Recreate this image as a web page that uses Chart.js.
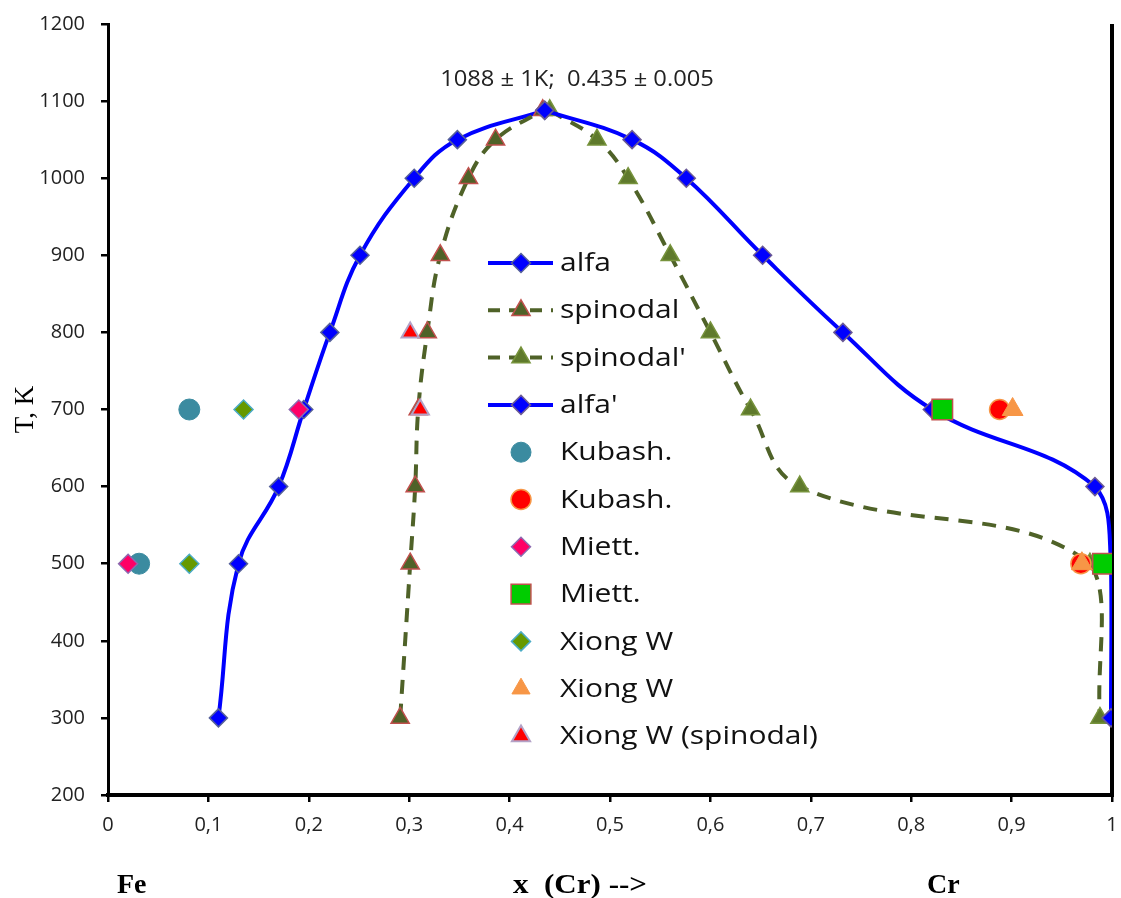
<!DOCTYPE html>
<html><head><meta charset="utf-8">
<script src="https://cdn.jsdelivr.net/npm/chart.js@4.4.1/dist/chart.umd.min.js"></script>
<style>html,body{margin:0;padding:0;background:#fff;}#wrap{width:1121px;height:898px;}</style>
</head><body><div id="wrap"><canvas id="c" width="1121" height="898"></canvas></div>
<script>
// ---- data ----
const xTickValues = [0,0.1,0.2,0.3,0.4,0.5,0.6,0.7,0.8,0.9,1];
const xTickLabels = ['0','0,1','0,2','0,3','0,4','0,5','0,6','0,7','0,8','0,9','1'];
const yTickValues = [200,300,400,500,600,700,800,900,1000,1100,1200];

const alfaX  = [0.110, 0.130, 0.170, 0.195, 0.221, 0.251, 0.305, 0.348, 0.435];
const alfaT  = [300, 500, 600, 700, 800, 900, 1000, 1050, 1088];
const spinX  = [0.291, 0.301, 0.306, 0.309, 0.318, 0.331, 0.359, 0.386, 0.433];
const spinT  = [300, 500, 600, 700, 800, 900, 1000, 1050, 1088];
const spinPX = [0.440, 0.487, 0.518, 0.560, 0.600, 0.640, 0.689, 0.978, 0.988];
const spinPT = [1088, 1050, 1000, 900, 800, 700, 600, 500, 300];
const alfaPX = [0.435, 0.522, 0.576, 0.652, 0.732, 0.821, 0.983, 0.999, 0.999];
const alfaPT = [1088, 1050, 1000, 900, 800, 700, 600, 500, 300];

const kubash1X = [0.081, 0.031];  const kubash1T = [700, 500];
const kubash2X = [0.888, 0.969];  const kubash2T = [700, 500];
const miett1X  = [0.020, 0.190];  const miett1T  = [500, 700];
const miett2X  = [0.831, 0.991];  const miett2T  = [700, 500];
const xiong1X  = [0.135, 0.081];  const xiong1T  = [700, 500];
const xiong2X  = [0.901, 0.970];  const xiong2T  = [700, 500];
const xiongSX  = [0.301, 0.311];  const xiongST  = [800, 700];

const seriesNames = ['alfa','spinodal',"spinodal'","alfa'",'Kubash.','Kubash.','Miett.','Miett.','Xiong W','Xiong W','Xiong W (spinodal)'];
const peakNote = '1088 \u00b1 1K;  0.435 \u00b1 0.005';
const bottomNotes = ['Fe', 'x  (Cr) -->', 'Cr'];
const yTitle = 'T, K';

function pts(xs, ts){ return xs.map((x,i)=>({x:x, y:ts[i]})); }
function lineSet(name, xs, ts, o){
  return Object.assign({label:name, data:pts(xs,ts), showLine:true, tension:0.4, fill:false}, o);
}
function dotSet(name, xs, ts, o){
  return Object.assign({label:name, data:pts(xs,ts), showLine:false}, o);
}

const datasets = [
  lineSet(seriesNames[0], alfaX, alfaT, {borderColor:'#0000FF', borderWidth:4, pointStyle:'rectRot', pointRadius:9, pointBackgroundColor:'#0000FF', pointBorderColor:'#55609A', pointBorderWidth:1.5}),
  lineSet(seriesNames[1], spinX, spinT, {borderColor:'#4F6228', borderWidth:4, borderDash:[14,10], pointStyle:'triangle', pointRadius:10.5, pointBackgroundColor:'#4F6228', pointBorderColor:'#C0504D', pointBorderWidth:1.5}),
  lineSet(seriesNames[2], spinPX, spinPT, {borderColor:'#4F6228', borderWidth:4, borderDash:[14,10], pointStyle:'triangle', pointRadius:10.5, pointBackgroundColor:'#5F7A2C', pointBorderColor:'#77933C', pointBorderWidth:1.5}),
  lineSet(seriesNames[3], alfaPX, alfaPT, {borderColor:'#0000FF', borderWidth:4, pointStyle:'rectRot', pointRadius:9, pointBackgroundColor:'#0000FF', pointBorderColor:'#6B5A95', pointBorderWidth:1.5}),
  dotSet(seriesNames[4], kubash1X, kubash1T, {pointStyle:'circle', pointRadius:10.5, pointBackgroundColor:'#3B8BA0', pointBorderColor:'#3B8BA0', pointBorderWidth:1}),
  dotSet(seriesNames[5], kubash2X, kubash2T, {pointStyle:'circle', pointRadius:10, pointBackgroundColor:'#FF0000', pointBorderColor:'#F79646', pointBorderWidth:1.5}),
  dotSet(seriesNames[6], miett1X, miett1T, {pointStyle:'rectRot', pointRadius:9.5, pointBackgroundColor:'#FF0066', pointBorderColor:'#8C6BB1', pointBorderWidth:1.5}),
  dotSet(seriesNames[7], miett2X, miett2T, {pointStyle:'rect', pointRadius:14.5, pointBackgroundColor:'#00CC00', pointBorderColor:'#C0504D', pointBorderWidth:1.5}),
  dotSet(seriesNames[8], xiong1X, xiong1T, {pointStyle:'rectRot', pointRadius:9.5, pointBackgroundColor:'#669900', pointBorderColor:'#4BACC6', pointBorderWidth:1.5}),
  dotSet(seriesNames[9], xiong2X, xiong2T, {pointStyle:'triangle', pointRadius:12, pointBackgroundColor:'#F79646', pointBorderColor:'#F79646', pointBorderWidth:1}),
  dotSet(seriesNames[10], xiongSX, xiongST, {pointStyle:'triangle', pointRadius:10, pointBackgroundColor:'#FF0000', pointBorderColor:'#B3A2C7', pointBorderWidth:2})
];
datasets.forEach((d,i)=>{ d.order = datasets.length - i; });

function stretchedText(ctx, text, x, y, sx){
  ctx.save(); ctx.translate(x, y); ctx.scale(sx, 1); ctx.fillText(text, 0, 0); ctx.restore();
}

const customPlugin = {
  id:'customLegend',
  beforeDatasetsDraw(chart){
    const ctx = chart.ctx, xs = chart.scales.x, a = chart.chartArea;
    const px = xs.getPixelForValue(1);
    ctx.save(); ctx.strokeStyle = '#000'; ctx.lineWidth = 4;
    ctx.beginPath(); ctx.moveTo(px, a.top); ctx.lineTo(px, a.bottom + 2); ctx.stroke();
    ctx.restore();
  },
  afterDatasetsDraw(chart){
    const ctx = chart.ctx;
    const x0 = 488, x1 = 553, mx = 521, tx = 560, y0 = 263, dy = 47.3;
    ctx.save();
    chart.data.datasets.forEach((d,i)=>{
      const y = y0 + i*dy;
      if (d.showLine){
        ctx.save();
        ctx.strokeStyle = d.borderColor; ctx.lineWidth = d.borderWidth;
        ctx.setLineDash(d.borderDash ? [12,9] : []);
        ctx.beginPath(); ctx.moveTo(x0,y); ctx.lineTo(x1,y); ctx.stroke();
        ctx.restore();
      }
      ctx.save();
      ctx.fillStyle = d.pointBackgroundColor; ctx.strokeStyle = d.pointBorderColor;
      ctx.lineWidth = d.pointBorderWidth; ctx.setLineDash([]);
      const r = d.pointStyle==='rect' ? 14 : (d.pointStyle==='triangle' ? 10.5 : (d.pointStyle==='circle'?10:9.5));
      Chart.helpers.drawPoint(ctx, {pointStyle:d.pointStyle, radius:r, rotation:0, borderWidth:d.pointBorderWidth}, mx, y);
      ctx.restore();
      ctx.fillStyle = '#111';
      ctx.font = '25px "Open Sans", "DejaVu Sans", sans-serif';
      ctx.textBaseline = 'middle'; ctx.textAlign = 'left';
      stretchedText(ctx, d.label, tx, y+1, 1.2);
    });
    ctx.restore();
  },
  afterDraw(chart){
    const ctx = chart.ctx;
    ctx.save();
    ctx.fillStyle = '#222';
    ctx.font = '21px "Open Sans", "DejaVu Sans", sans-serif';
    ctx.textAlign = 'center'; ctx.textBaseline = 'middle';
    stretchedText(ctx, peakNote, 577, 80, 1.13);
    ctx.fillStyle = '#000';
    ctx.font = 'bold 28px "Liberation Serif", "DejaVu Serif", serif';
    ctx.textAlign = 'left'; ctx.textBaseline = 'alphabetic';
    ctx.fillText(bottomNotes[0], 117, 893);
    const w = ctx.measureText(bottomNotes[1]).width;
    stretchedText(ctx, bottomNotes[1], 513, 893, 134 / w);
    ctx.fillText(bottomNotes[2], 927, 893);
    ctx.restore();
  }
};

new Chart(document.getElementById('c'), {
  type:'scatter',
  data:{datasets:datasets},
  options:{
    responsive:false, animation:false, devicePixelRatio:1,
    layout:{autoPadding:false, padding:0},
    plugins:{legend:{display:false}, tooltip:{enabled:false}},
    scales:{
      x:{type:'linear', min:0, max:1,
        afterBuildTicks(s){ s.ticks = xTickValues.map(v=>({value:v})); },
        afterFit(s){ s.height = 103; s.paddingLeft = 0; s.paddingRight = 9; },
        ticks:{autoSkip:false, maxRotation:0, padding:11, color:'#222',
          font:{family:'"Open Sans", "DejaVu Sans", sans-serif', size:20},
          callback(v){ const i = xTickValues.findIndex(t=>Math.abs(t-v)<1e-9); return i>=0 ? xTickLabels[i] : ''; }},
        grid:{drawOnChartArea:false, drawTicks:true, tickLength:7, color:'#000', lineWidth:2.5},
        border:{color:'#000', width:4}
      },
      y:{type:'linear', min:200, max:1200,
        afterBuildTicks(s){ s.ticks = yTickValues.map(v=>({value:v})); },
        afterFit(s){ s.width = 108; s.paddingTop = 24; s.paddingBottom = 0; },
        ticks:{padding:16, color:'#222', font:{family:'"Open Sans", "DejaVu Sans", sans-serif', size:20},
          callback(v){ return String(v); }},
        grid:{drawOnChartArea:false, drawTicks:true, tickLength:7, color:'#000', lineWidth:2.5},
        border:{color:'#000', width:3},
        title:{display:true, text:yTitle, color:'#000', padding:{top:10,bottom:0},
          font:{family:'"Liberation Serif", "DejaVu Serif", serif', size:27, weight:'normal'}}
      }
    }
  },
  plugins:[customPlugin]
});
</script></body></html>
